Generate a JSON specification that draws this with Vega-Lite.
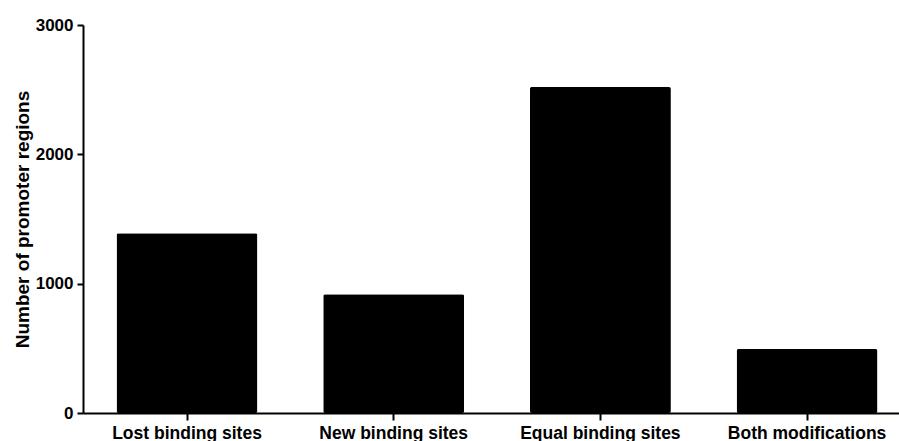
{
  "$schema": "https://vega.github.io/schema/vega-lite/v6.json",
  "autosize": "none",
  "width": 816,
  "height": 388,
  "padding": {"left": 83, "top": 25, "right": 0, "bottom": 28},
  "background": "white",
  "config": {
    "view": {"stroke": null},
    "font": "Liberation Sans"
  },
  "data": {
    "values": [
      {"category": "Lost binding sites", "count": 1390},
      {"category": "New binding sites", "count": 918},
      {"category": "Equal binding sites", "count": 2520},
      {"category": "Both modifications", "count": 494}
    ]
  },
  "mark": {"type": "bar", "color": "black", "cornerRadius": 2},
  "encoding": {
    "x": {
      "field": "category",
      "type": "nominal",
      "sort": null,
      "scale": {"paddingInner": 0.318, "paddingOuter": 0.133, "align": 0.61},
      "axis": {
        "title": null,
        "labelAngle": 0,
        "labelFont": "Liberation Sans",
        "labelFontWeight": "bold",
        "labelFontSize": 17.5,
        "labelColor": "black",
        "labelPadding": 4,
        "domainColor": "black",
        "domainWidth": 2,
        "tickColor": "black",
        "tickWidth": 2,
        "tickSize": 7
      }
    },
    "y": {
      "field": "count",
      "type": "quantitative",
      "scale": {"domain": [0, 3000], "nice": false},
      "axis": {
        "title": "Number of promoter regions",
        "titleFont": "Liberation Sans",
        "titleFontWeight": "bold",
        "titleFontSize": 19,
        "titleColor": "black",
        "titlePadding": 3,
        "values": [0, 1000, 2000, 3000],
        "format": "d",
        "labelFont": "Liberation Sans",
        "labelFontWeight": "bold",
        "labelFontSize": 17,
        "labelColor": "black",
        "labelPadding": 4,
        "grid": false,
        "domainColor": "black",
        "domainWidth": 2,
        "tickColor": "black",
        "tickWidth": 2,
        "tickSize": 6
      }
    }
  }
}
